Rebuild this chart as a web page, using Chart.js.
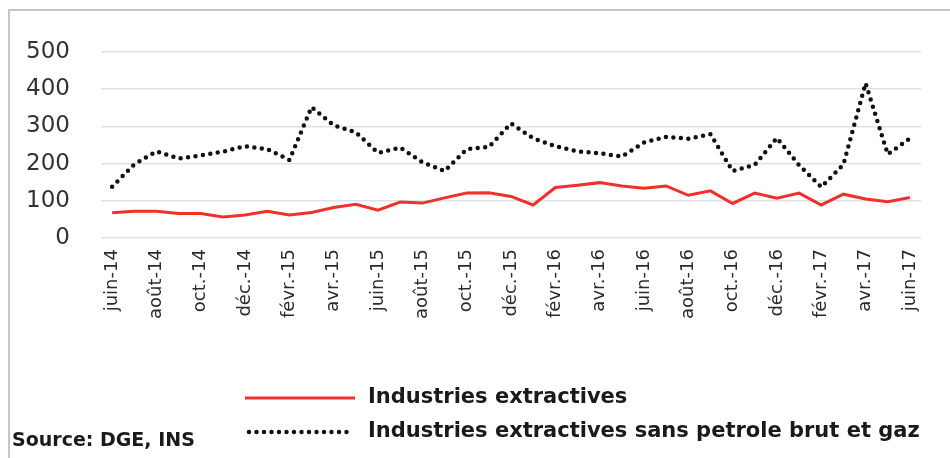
<!DOCTYPE html>
<html>
<head>
<meta charset="utf-8">
<script src="https://cdn.jsdelivr.net/npm/chart.js@4.4.0/dist/chart.umd.min.js"></script>
<style>
    html, body { margin: 0; padding: 0; background: #fff; }
    #wrap { position: relative; width: 950px; height: 458px; }
    #frame { position: absolute; left: 8px; top: 9px; right: 0; bottom: 0;
             border-left: 2px solid #c3c6c9; border-top: 2px solid #c3c6c9; pointer-events: none; }
</style>
</head>
<body>
<div id="wrap">
    <canvas id="chart" width="950" height="458"></canvas>
    <div id="frame"></div>
</div>
<script>
// Months, juin-14 .. juin-17
const months = [
    'juin-14', 'juil.-14', 'août-14', 'sept.-14', 'oct.-14', 'nov.-14', 'déc.-14',
    'janv.-15', 'févr.-15', 'mars-15', 'avr.-15', 'mai-15', 'juin-15', 'juil.-15',
    'août-15', 'sept.-15', 'oct.-15', 'nov.-15', 'déc.-15', 'janv.-16', 'févr.-16',
    'mars-16', 'avr.-16', 'mai-16', 'juin-16', 'juil.-16', 'août-16', 'sept.-16',
    'oct.-16', 'nov.-16', 'déc.-16', 'janv.-17', 'févr.-17', 'mars-17', 'avr.-17',
    'mai-17', 'juin-17'
];

// Industries extractives (red)
const extractives = [
    68, 72, 72, 66, 66, 57, 62, 72, 62, 69, 82, 91, 75,
    97, 94, 108, 121, 122, 112, 89, 136, 142, 149, 140, 134,
    140, 115, 127, 93, 121, 107, 121, 89, 118, 105, 98, 109
];

// Industries extractives sans petrole brut et gaz (dotted)
const sansPetrole = [
    138, 198, 233, 214, 222, 232, 247, 239, 210, 352, 303, 284, 229,
    243, 204, 180, 239, 245, 308, 268, 247, 233, 228, 219, 257,
    272, 267, 279, 180, 197, 269, 196, 137, 198, 416, 225, 268
];

const yTicks = [0, 100, 200, 300, 400, 500];
const sourceText = 'Source: DGE, INS';

// legend + source drawn under the axis labels
const bottomLegend = {
    id: 'bottomLegend',
    afterDraw(chart) {
        const ctx = chart.ctx;
        ctx.save();
        const rows = [398, 432];
        chart.data.datasets.forEach((ds, i) => {
            const y = rows[i];
            ctx.beginPath();
            ctx.strokeStyle = ds.borderColor;
            ctx.lineWidth = ds.borderWidth;
            ctx.lineCap = ds.borderCapStyle || 'butt';
            ctx.setLineDash(ds.borderDash || []);
            ctx.moveTo(i ? 249 : 245, y);
            ctx.lineTo(i ? 349 : 355, y);
            ctx.stroke();
            ctx.setLineDash([]);
            ctx.fillStyle = '#1a1a1a';
            ctx.font = 'bold 21px "DejaVu Sans"';
            ctx.textBaseline = 'middle';
            ctx.textAlign = 'left';
            ctx.fillText(ds.label, 368, y);
        });
        ctx.font = 'bold 19px "DejaVu Sans"';
        ctx.textBaseline = 'middle';
        ctx.fillText(sourceText, 12, 441);
        ctx.restore();
    }
};

const ctx = document.getElementById('chart').getContext('2d');
const chart = new Chart(ctx, {
    type: 'line',
    data: {
        labels: months,
        datasets: [{
            label: 'Industries extractives',
            data: extractives,
            borderColor: '#f0302a',
            borderWidth: 3,
            pointRadius: 0,
            tension: 0,
            borderCapStyle: 'butt'
        }, {
            label: 'Industries extractives sans petrole brut et gaz',
            data: sansPetrole,
            borderColor: '#111111',
            borderWidth: 4.5,
            borderDash: [0, 7.5],
            borderCapStyle: 'round',
            pointRadius: 0,
            tension: 0
        }]
    },
    options: {
        responsive: false,
        animation: false,
        layout: { padding: { left: 27, right: 29, top: 52, bottom: 128 } },
        plugins: {
            legend: { display: false },
            tooltip: { enabled: false }
        },
        scales: {
            x: {
                offset: true,
                grid: { display: false, drawTicks: false },
                border: { display: false },
                ticks: {
                    autoSkip: false,
                    maxRotation: 90,
                    minRotation: 90,
                    padding: 11,
                    color: '#2b2b2b',
                    font: { family: '"DejaVu Sans"', size: 18 },
                    callback: (v, i) => (i % 2 === 0 ? months[i] : '')
                }
            },
            y: {
                min: 0,
                max: 500,
                afterBuildTicks: axis => { axis.ticks = yTicks.map(v => ({ value: v })); },
                afterFit: axis => { axis.width = 74; },
                grid: { color: '#dde2e7', lineWidth: 1.5, drawTicks: false },
                border: { display: false },
                ticks: {
                    padding: 31,
                    color: '#333333',
                    font: { family: '"DejaVu Sans"', size: 23 }
                }
            }
        }
    },
    plugins: [bottomLegend]
});
</script>
</body>
</html>
